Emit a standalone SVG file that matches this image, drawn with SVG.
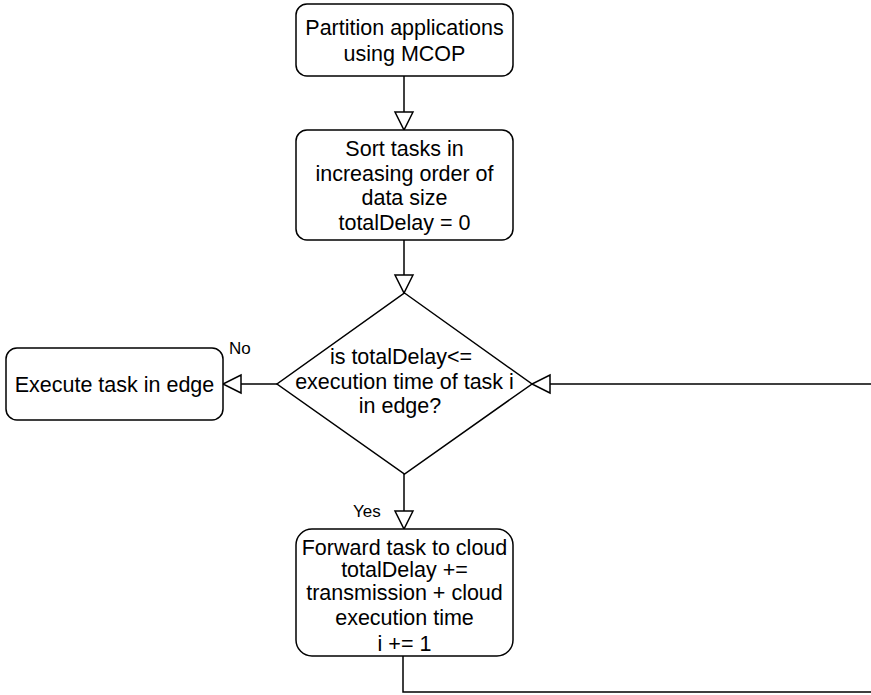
<svg xmlns="http://www.w3.org/2000/svg" width="871" height="695" viewBox="0 0 871 695">
  <style>
    .node { fill: #ffffff; stroke: #000000; stroke-width: 1.5; }
    .txt { font-family: "Liberation Sans", Arial, Helvetica, sans-serif; font-size: 21.5px; fill: #000000; text-anchor: middle; }
    .lbl { font-family: "Liberation Sans", Arial, Helvetica, sans-serif; font-size: 17px; fill: #000000; }
    .edge { fill: none; stroke: #000000; stroke-width: 1.5; }
  </style>
  <defs>
    <marker id="openArrow" markerUnits="userSpaceOnUse" markerWidth="22" markerHeight="22" viewBox="0 0 22 22" refX="20" refY="11" orient="auto">
      <path d="M2,2 L20,11 L2,20 Z" fill="#ffffff" stroke="#000000" stroke-width="1.5"/>
    </marker>
  </defs>

  <rect width="871" height="695" fill="#ffffff"/>

  <g id="connectors">
    <path class="edge" d="M404,76 L404,130" marker-end="url(#openArrow)"/>
    <path class="edge" d="M404,240 L404,293" marker-end="url(#openArrow)"/>
    <path class="edge" d="M277,384 L223,384" marker-end="url(#openArrow)"/>
    <path class="edge" d="M404,474 L404,529" marker-end="url(#openArrow)"/>
    <path class="edge" d="M403,656 L403,692 L880,692 L880,384 L532,384" marker-end="url(#openArrow)"/>
    <text class="lbl" x="229" y="354">No</text>
    <text class="lbl" x="353" y="517">Yes</text>
  </g>

  <g id="partition">
    <rect class="node" x="296" y="4" width="217" height="72" rx="11" ry="11"/>
    <text class="txt" x="404.5" y="35">Partition applications</text>
    <text class="txt" x="404.5" y="61">using MCOP</text>
  </g>

  <g id="sort">
    <rect class="node" x="296" y="130" width="217" height="110" rx="11" ry="11"/>
    <text class="txt" x="404.5" y="156">Sort tasks in</text>
    <text class="txt" x="404.5" y="181">increasing order of</text>
    <text class="txt" x="404.5" y="205">data size</text>
    <text class="txt" x="404.5" y="230">totalDelay = 0</text>
  </g>

  <g id="decision">
    <path class="node" d="M404.5,293 L532,384 L404.5,474 L277,384 Z"/>
    <text class="txt" x="401" y="364">is totalDelay&lt;=</text>
    <text class="txt" x="404.5" y="389">execution time of task i</text>
    <text class="txt" x="400" y="413">in edge?</text>
  </g>

  <g id="edgeExec">
    <rect class="node" x="6" y="348" width="217" height="72" rx="11" ry="11"/>
    <text class="txt" x="114.5" y="392">Execute task in edge</text>
  </g>

  <g id="forward">
    <rect class="node" x="296" y="529" width="217" height="127" rx="16" ry="16"/>
    <text class="txt" x="404.5" y="555">Forward task to cloud</text>
    <text class="txt" x="404.5" y="577">totalDelay +=</text>
    <text class="txt" x="404.5" y="600">transmission + cloud</text>
    <text class="txt" x="404.5" y="625">execution time</text>
    <text class="txt" x="404.5" y="651">i += 1</text>
  </g>
</svg>
